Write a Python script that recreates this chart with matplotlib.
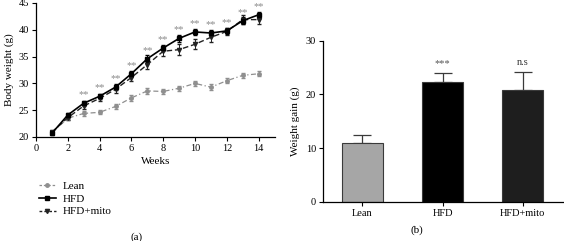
import matplotlib
matplotlib.use("Agg")
import matplotlib.pyplot as plt
import numpy as np
from matplotlib.lines import Line2D

plt.rcParams['font.family'] = ['Liberation Serif', 'DejaVu Serif']
plt.rcParams['font.size'] = 7.5

# ---- data (a) ----
weeks = [1, 2, 3, 4, 5, 6, 7, 8, 9, 10, 11, 12, 13, 14]
lean = [20.8, 23.5, 24.4, 24.6, 25.7, 27.3, 28.6, 28.5, 29.1, 30.0, 29.3, 30.5, 31.5, 31.8]
lean_err = [0.3, 0.4, 0.5, 0.4, 0.5, 0.5, 0.5, 0.5, 0.5, 0.5, 0.5, 0.5, 0.5, 0.5]
hfd = [20.7, 24.1, 26.3, 27.6, 29.3, 31.8, 34.6, 36.6, 38.4, 39.6, 39.4, 39.8, 41.7, 42.8]
hfd_err = [0.3, 0.4, 0.5, 0.5, 0.6, 0.6, 0.7, 0.6, 0.6, 0.6, 0.6, 0.6, 0.6, 0.6]
mito = [20.9, 23.6, 25.8, 27.2, 28.9, 31.1, 33.5, 36.0, 36.3, 37.3, 38.6, 39.7, 41.9, 41.9]
mito_err = [0.3, 0.5, 0.5, 0.5, 0.6, 0.6, 0.8, 0.9, 1.0, 0.9, 0.9, 0.7, 0.8, 0.8]
star_weeks = [3, 4, 5, 6, 7, 8, 9, 10, 11, 12, 13, 14]
star_label = "**"

# ---- data (b) ----
groups = ["Lean", "HFD", "HFD+mito"]
gain = [11.0, 22.3, 20.9]
gain_err = [1.5, 1.6, 3.3]
gain_sig = ["", "***", "n.s"]
bar_colors = ["#a6a6a6", "#000000", "#1e1e1e"]

fig = plt.figure(figsize=(5.64, 2.41), dpi=100)

# ---------- panel (a) ----------
ax = fig.add_axes([36/564, 1-137/241, (274.5-36)/564, 134/241])
ax.errorbar(weeks, lean, yerr=lean_err, color="#8f8f8f", ls=(0, (4, 2, 1, 2)), lw=0.9,
            marker="o", ms=2.5, capsize=1.5, elinewidth=0.7, label="Lean")
ax.errorbar(weeks, mito, yerr=mito_err, color="#222222", ls=(0, (4, 2)), lw=1.0,
            marker="v", ms=3, capsize=1.5, elinewidth=0.7, label="HFD+mito")
ax.errorbar(weeks, hfd, yerr=hfd_err, color="#000000", ls="-", lw=1.2,
            marker="s", ms=3, capsize=1.5, elinewidth=0.7, label="HFD")
for w in star_weeks:
    i = weeks.index(w)
    ax.annotate(star_label, (w, hfd[i]), xytext=(0, 6), textcoords="offset points",
                ha="center", va="center", color="#8a8a8a", fontsize=7.5)
ax.set_xlim(0, 15)
ax.set_ylim(20, 45)
ax.set_xticks(range(0, 15, 2))
ax.set_yticks(range(20, 46, 5))
for s in ["top", "right"]:
    ax.spines[s].set_visible(False)
for s in ["left", "bottom"]:
    ax.spines[s].set_linewidth(0.9)
ax.tick_params(direction="out", length=3, width=0.8, pad=2, labelsize=7.5)
ax.set_xlabel("Weeks", fontsize=8, labelpad=3)
ax.set_ylabel("Body weight (g)", fontsize=8, labelpad=3)

handles = [
    Line2D([], [], color="#8f8f8f", ls=(0, (2, 1.5)), lw=0.9, marker="o", ms=2.5),
    Line2D([], [], color="#000000", ls="-", lw=1.2, marker="s", ms=3),
    Line2D([], [], color="#222222", ls=(0, (2, 1.5)), lw=1.0, marker="v", ms=3),
]
fig.legend(handles, ["Lean", "HFD", "HFD+mito"], loc="upper left",
           bbox_to_anchor=(33/564, 1-176/241), frameon=False, fontsize=8,
           handlelength=1.6, handletextpad=0.6, labelspacing=0.25, borderpad=0)
fig.text(137/564, 1-237/241, "(a)", ha="center", va="center", fontsize=8)

# ---------- panel (b) ----------
bx = fig.add_axes([323/564, 1-201.7/241, (563-323)/564, 161/241])
x = np.arange(len(groups))
bx.bar(x, gain, width=0.51, color=bar_colors, edgecolor="#3a3a3a", linewidth=0.8, zorder=2)
bx.errorbar(x, gain, yerr=[np.zeros(len(gain)), gain_err], fmt="none", ecolor="#3a3a3a",
            elinewidth=0.9, capsize=6.5, capthick=0.9, zorder=1)
for xi, g, e, s in zip(x, gain, gain_err, gain_sig):
    if s:
        bx.annotate(s, (xi, g + e), xytext=(0, 7), textcoords="offset points",
                    ha="center", va="center", color="#555555" if s == "***" else "#333333",
                    fontsize=7.5)
bx.set_xlim(-0.49, 2.5)
bx.set_ylim(0, 30)
bx.set_yticks([0, 10, 20, 30])
bx.set_xticks(x)
bx.set_xticklabels(groups)
for s in ["top", "right"]:
    bx.spines[s].set_visible(False)
for s in ["left", "bottom"]:
    bx.spines[s].set_linewidth(0.9)
bx.tick_params(direction="out", length=3, width=0.8, pad=2, labelsize=7.5)
bx.set_ylabel("Weight gain (g)", fontsize=8, labelpad=4)
fig.text(417/564, 1-230/241, "(b)", ha="center", va="center", fontsize=8)

fig.savefig("out.png", dpi=100)
